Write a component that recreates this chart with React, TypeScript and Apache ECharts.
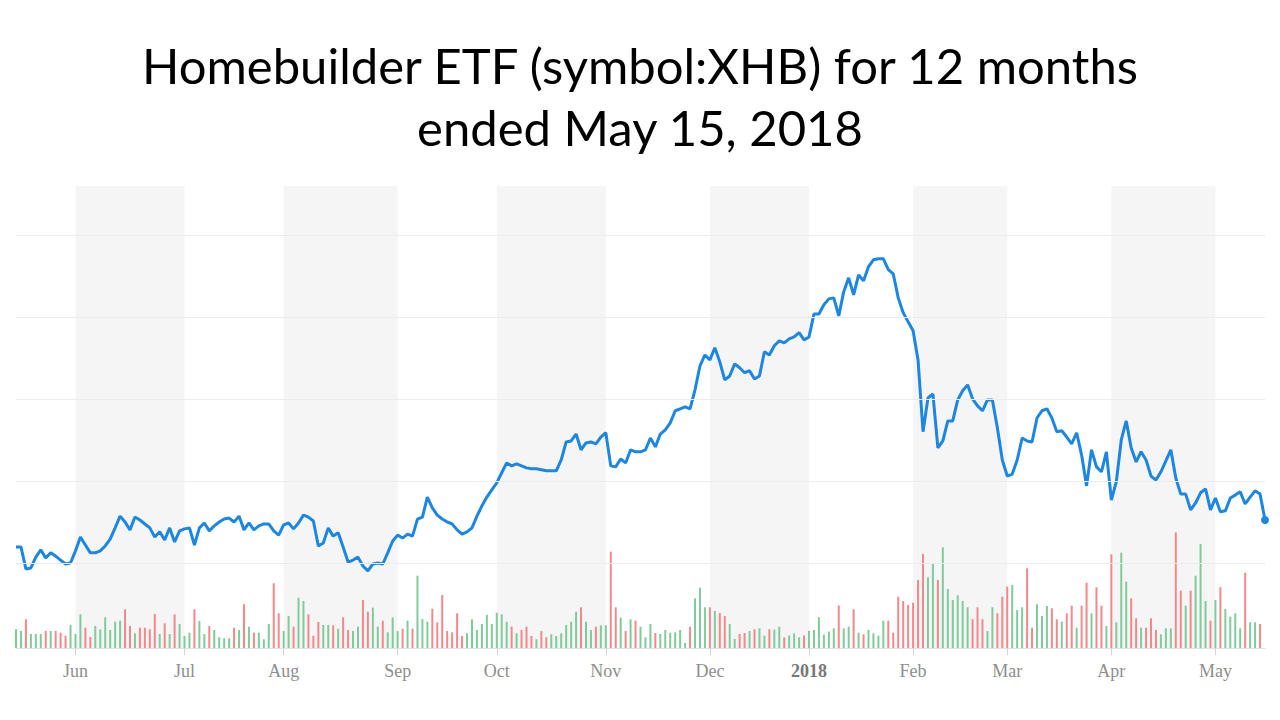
import React, { useEffect, useRef } from "react";
import * as echarts from "echarts";

// Trading calendar: 2017-05-15 .. 2018-05-15 (weekdays minus NYSE holidays)
const START_DATE = "2017-05-15";
const END_DATE = "2018-05-15";
const HOLIDAYS = [
  "2017-05-29", "2017-07-04", "2017-09-04", "2017-11-23", "2017-12-25",
  "2018-01-01", "2018-01-15", "2018-02-19", "2018-03-30",
];

// Daily closing price of XHB (USD)
const prices = [
  37.99, 37.99, 37.32, 37.35, 37.68, 37.90, 37.65, 37.81, 37.71, 37.59,
  37.47, 37.50, 37.87, 38.29, 38.05, 37.81, 37.81, 37.87, 38.02, 38.23,
  38.57, 38.93, 38.75, 38.51, 38.90, 38.81, 38.69, 38.57, 38.29, 38.45,
  38.20, 38.57, 38.14, 38.48, 38.54, 38.57, 38.05, 38.57, 38.72, 38.48,
  38.63, 38.75, 38.84, 38.87, 38.75, 38.93, 38.51, 38.72, 38.51, 38.63,
  38.69, 38.69, 38.48, 38.35, 38.66, 38.72, 38.54, 38.72, 38.96, 38.90,
  38.78, 38.02, 38.11, 38.57, 38.32, 38.42, 37.99, 37.53, 37.59, 37.68,
  37.41, 37.26, 37.47, 37.50, 37.47, 37.81, 38.17, 38.35, 38.26, 38.38,
  38.32, 38.84, 38.90, 39.51, 39.18, 38.96, 38.84, 38.75, 38.69, 38.51,
  38.38, 38.45, 38.57, 38.93, 39.24, 39.51, 39.73, 39.94, 40.25, 40.55,
  40.46, 40.52, 40.46, 40.40, 40.37, 40.37, 40.34, 40.31, 40.31, 40.31,
  40.64, 41.19, 41.22, 41.43, 40.95, 41.16, 41.19, 41.13, 41.34, 41.47,
  40.46, 40.43, 40.67, 40.55, 40.95, 40.89, 40.89, 40.95, 41.31, 41.04,
  41.43, 41.56, 41.77, 42.14, 42.20, 42.26, 42.20, 42.78, 43.51, 43.84,
  43.69, 44.06, 43.63, 43.08, 43.20, 43.57, 43.45, 43.30, 43.36, 43.11,
  43.20, 43.94, 43.84, 44.12, 44.27, 44.21, 44.33, 44.39, 44.52, 44.30,
  44.39, 45.09, 45.09, 45.37, 45.55, 45.58, 45.03, 45.77, 46.19, 45.67,
  46.28, 46.10, 46.53, 46.74, 46.77, 46.77, 46.44, 46.31, 45.58, 45.13,
  44.85, 44.58, 43.69, 41.50, 42.53, 42.65, 41.01, 41.22, 41.83, 41.83,
  42.47, 42.75, 42.93, 42.50, 42.29, 42.14, 42.47, 42.47, 41.62, 40.64,
  40.15, 40.21, 40.64, 41.31, 41.22, 41.19, 41.92, 42.14, 42.20, 41.92,
  41.50, 41.53, 41.34, 41.13, 41.47, 40.79, 39.85, 40.95, 40.43, 40.28,
  40.89, 39.42, 39.97, 41.25, 41.83, 41.01, 40.58, 40.89, 40.64, 40.15,
  40.03, 40.28, 40.61, 40.95, 40.09, 39.60, 39.60, 39.12, 39.33, 39.64,
  39.76, 39.12, 39.48, 39.06, 39.09, 39.48, 39.57, 39.67, 39.30, 39.51,
  39.70, 39.60, 38.81,
];

// Daily volume (millions of shares)
const volumes = [
  1.87, 1.70, 2.87, 1.40, 1.40, 1.40, 1.70, 1.70, 1.70, 1.53,
  1.23, 2.30, 1.40, 3.37, 2.03, 1.10, 2.20, 1.87, 3.07, 1.80,
  2.63, 2.73, 3.87, 2.20, 1.47, 2.03, 2.03, 1.87, 3.40, 1.40,
  2.47, 1.40, 3.37, 2.40, 1.20, 1.53, 3.87, 2.70, 1.40, 2.20,
  1.80, 1.07, 0.97, 0.97, 2.03, 1.80, 4.37, 2.13, 1.53, 1.53,
  0.87, 2.40, 6.47, 3.47, 1.70, 3.20, 2.13, 5.03, 4.70, 3.37,
  1.23, 2.60, 2.30, 2.30, 2.27, 1.93, 3.07, 1.80, 1.70, 2.13,
  4.80, 3.63, 4.03, 2.13, 2.73, 1.57, 3.07, 1.70, 1.93, 2.73,
  1.93, 7.23, 2.90, 2.63, 3.93, 2.57, 5.30, 1.70, 1.57, 3.47,
  1.20, 1.47, 2.87, 1.80, 2.40, 3.30, 2.40, 3.53, 3.37, 2.63,
  2.13, 1.47, 1.80, 2.13, 1.20, 0.87, 1.70, 1.07, 1.37, 1.20,
  1.47, 2.30, 2.63, 3.63, 4.07, 2.63, 1.80, 2.13, 2.27, 2.27,
  9.63, 4.07, 3.03, 1.70, 2.87, 2.73, 2.13, 1.07, 2.40, 1.50,
  1.40, 1.80, 1.53, 1.57, 1.80, 0.50, 2.13, 4.97, 6.03, 4.07,
  4.07, 3.70, 3.50, 3.20, 2.40, 0.90, 1.40, 1.50, 1.70, 1.87,
  1.97, 1.23, 1.87, 1.85, 2.13, 1.05, 1.25, 1.45, 1.07, 1.25,
  1.72, 1.80, 3.07, 1.35, 1.65, 1.97, 4.25, 1.97, 2.13, 3.87,
  1.53, 1.37, 1.80, 1.47, 1.23, 2.73, 2.73, 1.53, 5.13, 4.70,
  4.30, 4.53, 6.80, 9.40, 7.07, 8.47, 6.80, 10.07, 5.90, 4.80,
  5.27, 4.70, 4.07, 2.87, 4.07, 2.87, 1.70, 4.07, 3.47, 5.13,
  6.13, 6.30, 3.80, 4.07, 7.97, 2.03, 4.37, 3.20, 4.20, 3.97,
  2.87, 2.63, 3.47, 4.23, 2.03, 4.23, 6.53, 3.47, 6.07, 4.23,
  2.20, 9.37, 2.57, 9.53, 6.63, 4.97, 2.97, 2.03, 2.03, 2.97,
  1.80, 1.37, 1.97, 1.97, 11.57, 5.73, 4.23, 5.73, 7.23, 10.40,
  4.70, 2.73, 4.80, 6.07, 3.90, 3.13, 3.47, 1.97, 7.53, 2.57,
  2.57, 2.40, 0,
];

// Months drawn with a shaded band
const shadedMonths = ["2017-06", "2017-08", "2017-10", "2017-12", "2018-02", "2018-04"];
// Horizontal grid levels (price axis)
const gridLevels = [37.5, 40, 42.5, 45, 47.5];
const MONTHS = ["Jan", "Feb", "Mar", "Apr", "May", "Jun", "Jul", "Aug", "Sep", "Oct", "Nov", "Dec"];

const TITLE = "Homebuilder ETF (symbol:XHB) for 12 months\nended May 15, 2018";

function tradingDays(): string[] {
  const out: string[] = [];
  const [sy, sm, sd] = START_DATE.split("-").map(Number);
  const [ey, em, ed] = END_DATE.split("-").map(Number);
  const end = Date.UTC(ey, em - 1, ed);
  for (let t = Date.UTC(sy, sm - 1, sd); t <= end; t += 86400000) {
    const d = new Date(t);
    const wd = d.getUTCDay();
    if (wd === 0 || wd === 6) continue;
    const s = d.toISOString().slice(0, 10);
    if (HOLIDAYS.includes(s)) continue;
    out.push(s);
  }
  return out;
}

export default function App() {
  const ref = useRef<HTMLDivElement>(null);

  useEffect(() => {
    if (!ref.current) return;
    const chart = echarts.init(ref.current, undefined, { renderer: "svg" });
    const dates = tradingDays();
    const isMonthStart = (i: number) => i > 0 && dates[i].slice(0, 7) !== dates[i - 1].slice(0, 7);
    const monthStarts = dates.filter((_, i) => isMonthStart(i));

    const bands = shadedMonths.map((m) => {
      const s = monthStarts.find((d) => d.startsWith(m)) as string;
      const idx = monthStarts.indexOf(s);
      const e = monthStarts[idx + 1] ?? dates[dates.length - 1];
      return [{ xAxis: s }, { xAxis: e }];
    });

    const barData = volumes.map((v, i) => ({
      value: v,
      itemStyle: { color: i === 0 || prices[i] >= prices[i - 1] ? "#7fcb9b" : "#f2888b" },
    }));

    const last = prices.length - 1;

    chart.setOption({
      animation: false,
      backgroundColor: "#ffffff",
      title: {
        text: TITLE,
        left: "center",
        top: 29,
        textStyle: {
          fontFamily: "Lato",
          fontSize: 49,
          fontWeight: "normal",
          lineHeight: 62,
          color: "#000000",
        },
      },
      grid: { left: 16, right: 15, top: 186, bottom: 72 },
      xAxis: {
        type: "category",
        data: dates,
        boundaryGap: false,
        axisLine: { lineStyle: { color: "#e2e2e2" } },
        axisTick: {
          interval: (i: number) => isMonthStart(i),
          length: 7,
          lineStyle: { color: "#d3d3d3" },
        },
        axisLabel: {
          interval: (i: number) => isMonthStart(i),
          margin: 14,
          color: "#8e8e8e",
          fontFamily: "Liberation Serif",
          fontSize: 18,
          formatter: (v: string) => {
            const m = Number(v.slice(5, 7)) - 1;
            return m === 0 ? `{y|${v.slice(0, 4)}}` : MONTHS[m];
          },
          rich: {
            y: { fontFamily: "Liberation Serif", fontSize: 18, fontWeight: "bold", color: "#777777" },
          },
        },
        splitLine: { show: false },
      },
      yAxis: [
        { type: "value", min: 34.91, max: 48.99, show: false, splitLine: { show: false } },
        { type: "value", min: 0, max: 46.2, show: false, splitLine: { show: false } },
      ],
      series: [
        {
          name: "bands",
          type: "line",
          data: [],
          z: 1,
          silent: true,
          markArea: {
            silent: true,
            itemStyle: { color: "#f5f5f5" },
            label: { show: false },
            data: bands,
          },
          markLine: {
            silent: true,
            symbol: ["none", "none"],
            label: { show: false },
            lineStyle: { color: "#ececec", width: 1, type: "solid" },
            data: gridLevels.map((v) => ({ yAxis: v })),
          },
        },
        {
          name: "Volume",
          type: "bar",
          yAxisIndex: 1,
          barWidth: 2,
          z: 3,
          data: barData,
        },
        {
          name: "XHB",
          type: "line",
          yAxisIndex: 0,
          data: prices,
          showSymbol: false,
          symbol: "none",
          z: 4,
          lineStyle: { color: "#1c86e3", width: 3 },
          itemStyle: { color: "#1c86e3" },
          markPoint: {
            symbol: "circle",
            symbolSize: 8,
            itemStyle: { color: "#1c86e3" },
            label: { show: false },
            data: [{ coord: [dates[last], prices[last]] }],
          },
        },
      ],
    });
    return () => chart.dispose();
  }, []);

  return (
    <div
      ref={ref}
      style={{ position: "absolute", left: 0, top: 0, width: 1280, height: 720 }}
    />
  );
}
